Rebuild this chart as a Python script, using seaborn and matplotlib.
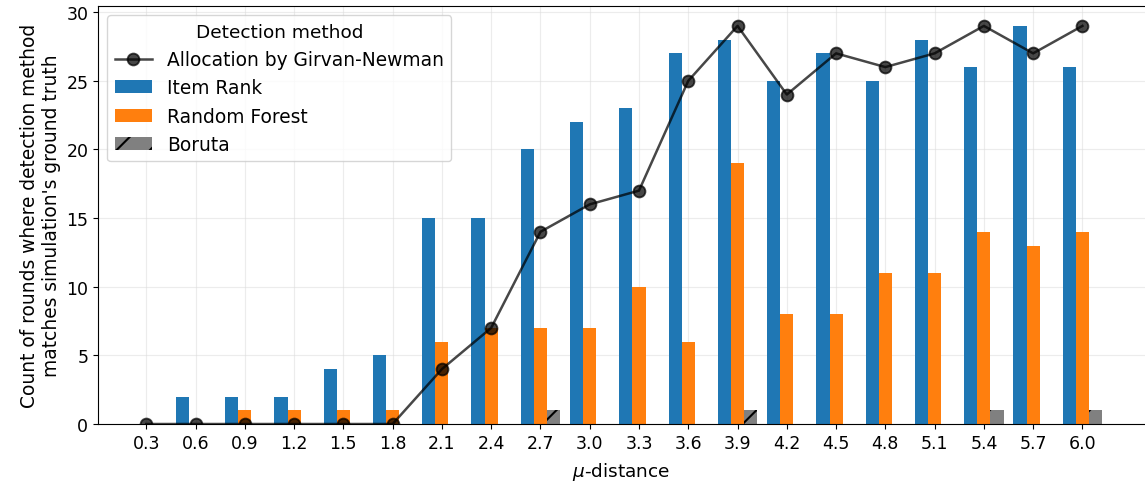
import numpy as np
import pandas as pd
import matplotlib
matplotlib.use("Agg")
import matplotlib.pyplot as plt
import seaborn as sns

# mu-distance categories
mu_labels = ["0.3", "0.6", "0.9", "1.2", "1.5", "1.8", "2.1", "2.4", "2.7", "3.0",
             "3.3", "3.6", "3.9", "4.2", "4.5", "4.8", "5.1", "5.4", "5.7", "6.0"]

# counts of rounds matching ground truth per method
item_rank = [0, 2, 2, 2, 4, 5, 15, 15, 20, 22, 23, 27, 28, 25, 27, 25, 28, 26, 29, 26]
random_forest = [0, 0, 1, 1, 1, 1, 6, 7, 7, 7, 10, 6, 19, 8, 8, 11, 11, 14, 13, 14]
boruta = [0, 0, 0, 0, 0, 0, 0, 0, 1, 0, 0, 0, 1, 0, 0, 0, 0, 1, 0, 1]
girvan_newman = [0, 0, 0, 0, 0, 0, 4, 7, 14, 16, 17, 25, 29, 24, 27, 26, 27, 29, 27, 29]

methods = ["Item Rank", "Random Forest", "Boruta"]
colors = ["#1f77b4", "#ff7f0e", "#808080"]

bars = pd.DataFrame({
    "mu": mu_labels * 3,
    "count": item_rank + random_forest + boruta,
    "method": [m for m in methods for _ in mu_labels],
})
line = pd.DataFrame({"mu": mu_labels, "count": girvan_newman})

plt.rcParams["font.size"] = 12.5
plt.rcParams["font.family"] = ["DejaVu Sans"]
plt.rcParams["hatch.linewidth"] = 1.5

fig = plt.figure(figsize=(11.45, 4.85), dpi=100)
ax = fig.add_axes([98 / 1145, 60 / 485, 1 - 98 / 1145, 418 / 485])

sns.barplot(data=bars, x="mu", y="count", hue="method", order=mu_labels,
            hue_order=methods, palette=colors, saturation=1, legend=False,
            errorbar=None, ax=ax)

# hatch the Boruta bars
for patch in ax.containers[2]:
    patch.set_hatch("/")

sns.pointplot(data=line, x="mu", y="count", order=mu_labels, color="black",
              markers="o", linestyles="-", errorbar=None, ax=ax,
              alpha=0.72, markersize=8.5, linewidth=1.8)

ax.set_xlim(-0.98, 20.27)
ax.set_ylim(0, 30.45)
ax.set_yticks([0, 5, 10, 15, 20, 25, 30])
ax.grid(True, color="#dddddd", alpha=0.55, linewidth=0.8)
ax.set_axisbelow(True)
ax.spines["right"].set_visible(False)

ax.set_xlabel(r"$\mu$-distance", fontsize=13.3, labelpad=6)
ax.set_ylabel("Count of rounds where detection method\nmatches simulation's ground truth",
              fontsize=13.4)

line_handle = ax.lines[-1]
handles = [line_handle, ax.containers[0], ax.containers[1], ax.containers[2]]
labels = ["Allocation by Girvan-Newman"] + methods
ax.legend(handles, labels, title="Detection method", loc="upper left",
          fontsize=13.4, title_fontsize=13.3, labelspacing=0.5)

fig.savefig("out.png", dpi=100)
